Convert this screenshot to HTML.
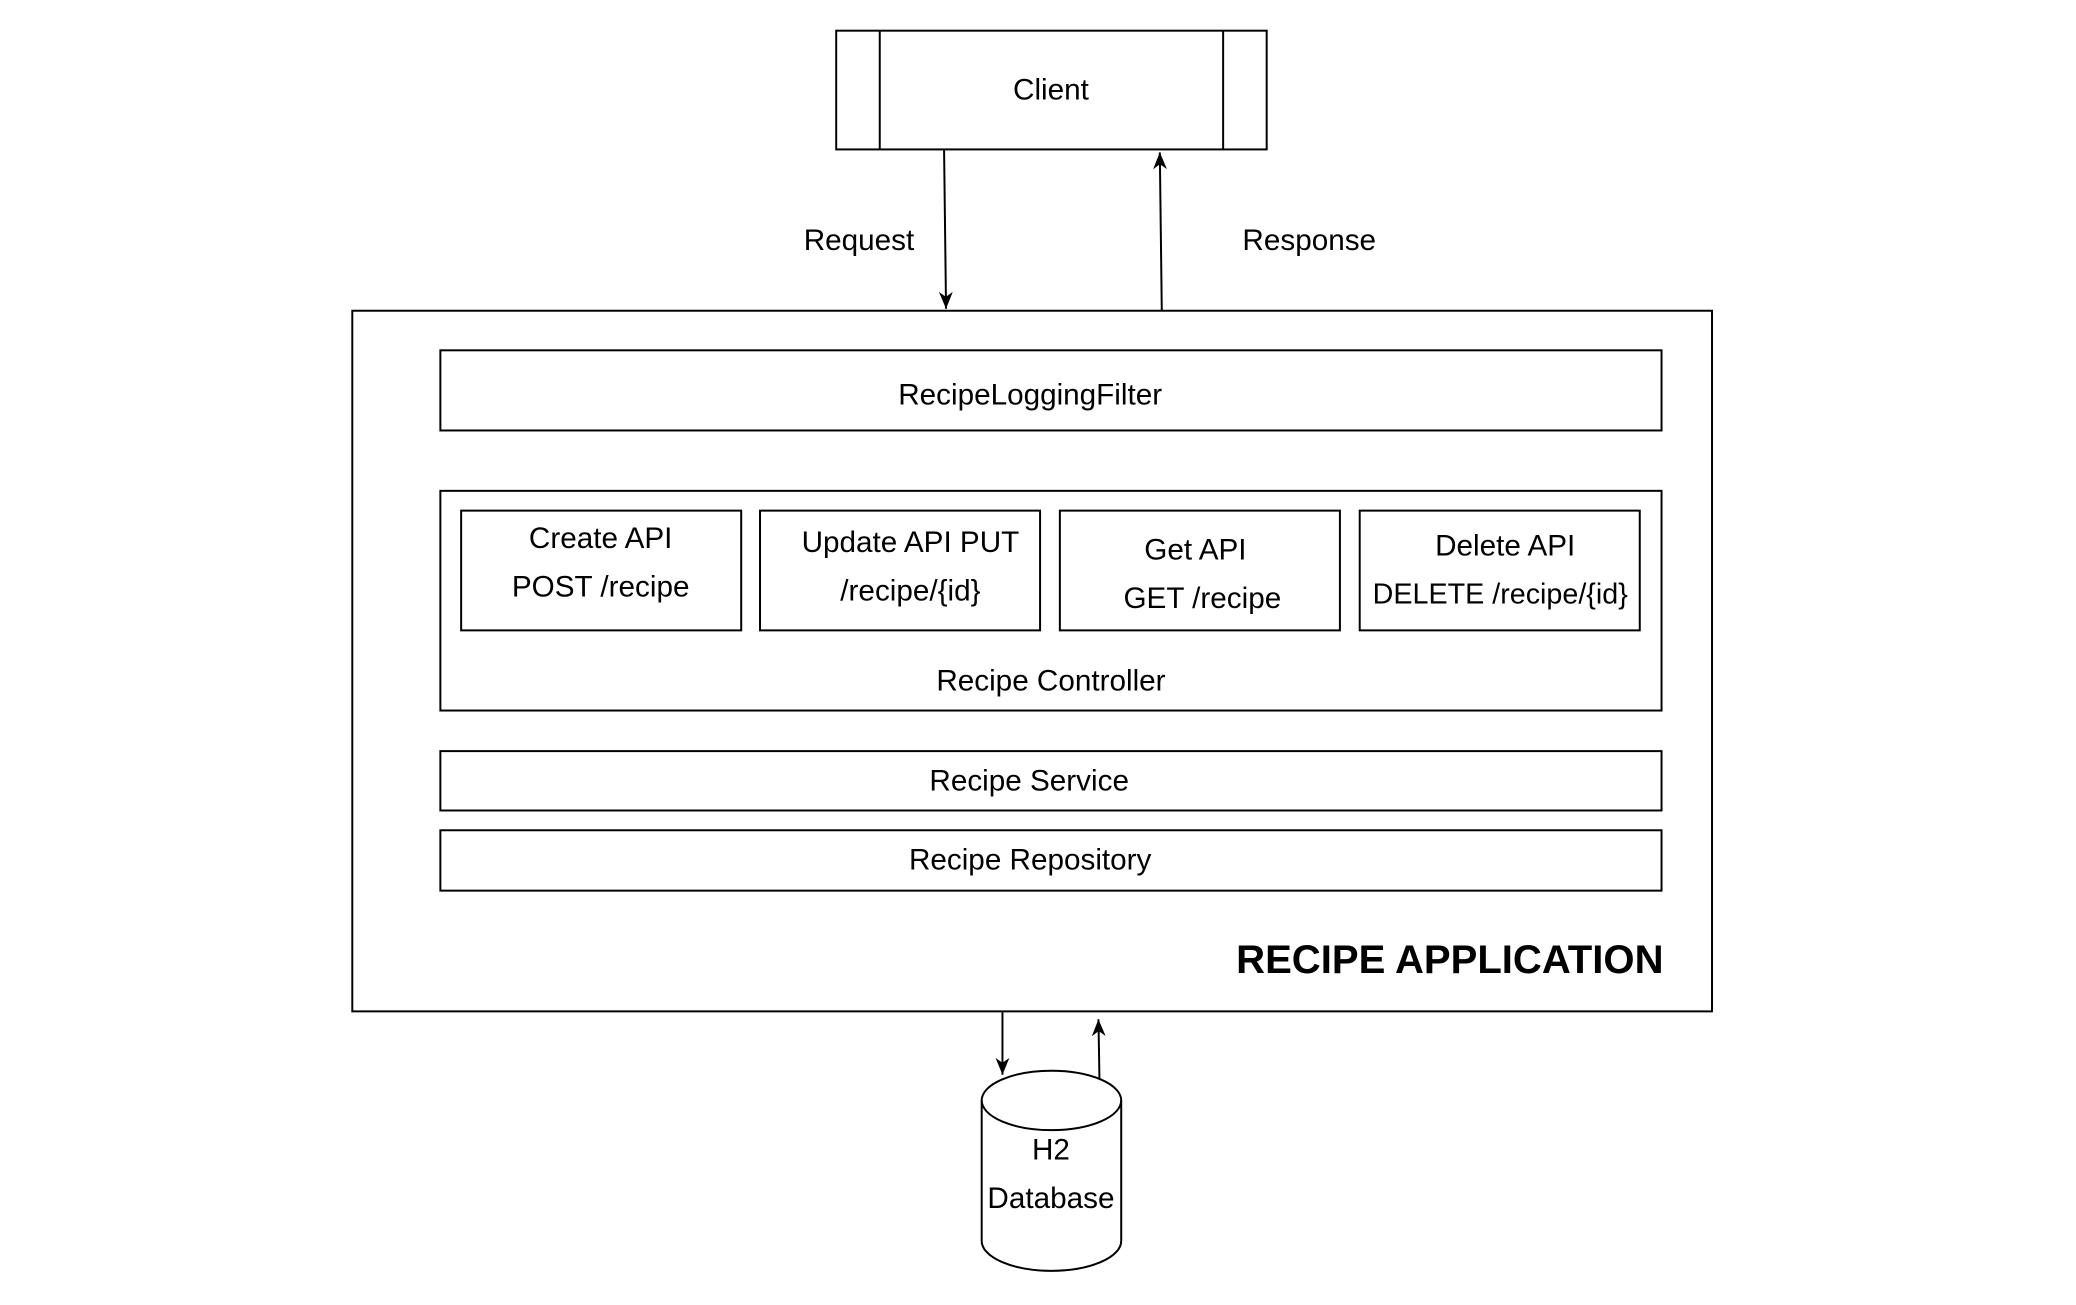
<!DOCTYPE html>
<html><head><meta charset="utf-8"><style>
html,body{margin:0;padding:0;background:#fff;}
svg{display:block;}
text{font-family:"Liberation Sans",Arial,sans-serif;font-size:30px;fill:#000;text-anchor:middle;dominant-baseline:central;}
</style></head><body>
<svg width="2076" height="1305" viewBox="0 0 2076 1305" xmlns="http://www.w3.org/2000/svg">
<defs><marker id="a" markerWidth="18" markerHeight="16" refX="17" refY="8" orient="auto" markerUnits="userSpaceOnUse"><path d="M0,1 L17,8 L0,15 L5,8 Z" fill="#000"/></marker></defs>
<g transform="scale(0.9896)">
<g fill="none" stroke="#000" stroke-width="2">
<rect x="845" y="31" width="435" height="120"/>
<line x1="889" y1="31" x2="889" y2="151"/><line x1="1236" y1="31" x2="1236" y2="151"/>
<line x1="954" y1="152" x2="956" y2="312" marker-end="url(#a)"/>
<line x1="1174" y1="314" x2="1172" y2="154" marker-end="url(#a)"/>
<rect x="356" y="314" width="1374" height="708"/>
<rect x="445" y="354" width="1234" height="81"/>
<rect x="445" y="496" width="1234" height="222"/>
<rect x="466" y="516" width="283" height="121"/>
<rect x="768" y="516" width="283" height="121"/>
<rect x="1071" y="516" width="283" height="121"/>
<rect x="1374" y="516" width="283" height="121"/>
<rect x="445" y="759" width="1234" height="60"/>
<rect x="445" y="839" width="1234" height="61"/>
<line x1="1013" y1="1023" x2="1013" y2="1086" marker-end="url(#a)"/>
<line x1="1111" y1="1090" x2="1110" y2="1030" marker-end="url(#a)"/>
<path d="M992,1112 L992,1254 A70,30 0 0 0 1133,1254 L1133,1112"/>
<ellipse cx="1062.5" cy="1112" rx="70.5" ry="30"/>
</g>
<text x="1062" y="91">Client</text>
<text x="868" y="243">Request</text>
<text x="1323" y="243">Response</text>
<text x="1041" y="399">RecipeLoggingFilter</text>
<text x="607" y="544">Create API</text>
<text x="607" y="593">POST /recipe</text>
<text x="920" y="548">Update API PUT</text>
<text x="920" y="597">/recipe/{id}</text>
<text x="1208" y="556">Get API</text>
<text x="1215" y="605">GET /recipe</text>
<text x="1521" y="552">Delete API</text>
<text x="1516" y="601" style="font-size:29px">DELETE /recipe/{id}</text>
<text x="1062" y="688">Recipe Controller</text>
<text x="1040" y="789">Recipe Service</text>
<text x="1041" y="869">Recipe Repository</text>
<text x="1681" y="970" style="text-anchor:end;font-weight:bold;font-size:40.5px">RECIPE APPLICATION</text>
<text x="1062" y="1162">H2</text>
<text x="1062" y="1211">Database</text>
</g>
</svg>
</body></html>
